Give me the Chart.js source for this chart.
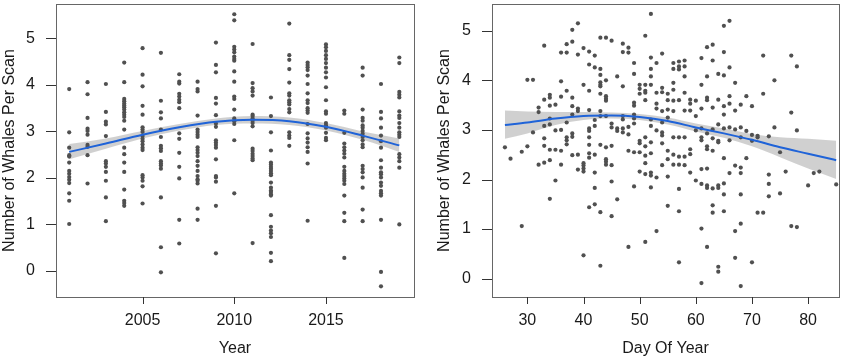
<!DOCTYPE html>
<html>
<head>
<meta charset="utf-8">
<script src="https://cdn.jsdelivr.net/npm/chart.js@4.4.1/dist/chart.umd.min.js"></script>
<style>
body { margin: 0; background: #fff; }
#wrap { display: flex; width: 850px; height: 358px; }
canvas { display: block; }
</style>
</head>
<body>
<div id="wrap">
  <canvas id="yearChart" width="425" height="358"></canvas>
  <canvas id="dayChart" width="425" height="358"></canvas>
</div>
<script>
// left panel: whales per scan by year
var years = [2001, 2002, 2003, 2004, 2005, 2006, 2007, 2008, 2009, 2010,
             2011, 2012, 2013, 2014, 2015, 2016, 2017, 2018, 2019];
var yearValues = [
  [3.91, 2.98, 2.65, 2.49, 2.46, 2.33, 2.15, 2.09, 2.02, 1.96, 1.89, 1.67, 1.51, 1.01],
  [4.06, 3.80, 3.29, 3.06, 3.01, 2.93, 2.71, 2.67, 2.49, 1.88],
  [4.02, 3.42, 3.21, 3.15, 2.90, 2.36, 2.31, 2.24, 2.13, 1.94, 1.58, 1.07],
  [4.48, 4.06, 3.70, 3.65, 3.60, 3.56, 3.52, 3.47, 3.41, 3.36, 3.31, 3.23, 3.04, 2.65, 2.51, 2.33, 2.13, 1.75, 1.51, 1.46, 1.40],
  [4.79, 4.22, 3.97, 3.55, 3.36, 3.09, 3.04, 2.99, 2.90, 2.84, 2.79, 2.72, 2.65, 2.60, 2.06, 2.01, 1.94, 1.82, 1.45],
  [4.69, 3.66, 3.41, 3.28, 3.04, 2.88, 2.69, 2.64, 2.58, 2.36, 2.31, 2.27, 2.20, 1.58, 0.51, -0.03],
  [4.23, 4.07, 4.03, 3.81, 3.75, 3.68, 3.63, 3.50, 2.96, 2.84, 2.54, 2.24, 1.99, 1.10, 0.59],
  [4.07, 3.91, 3.86, 3.34, 3.04, 2.99, 2.93, 2.88, 2.66, 2.60, 2.54, 2.47, 2.36, 2.26, 2.15, 2.04, 1.97, 1.94, 1.88, 1.34, 1.10],
  [4.91, 4.43, 4.27, 3.72, 3.60, 3.35, 3.17, 3.10, 2.81, 2.76, 2.71, 2.65, 2.40, 2.04, 2.01, 1.92, 1.40, 0.38],
  [5.52, 5.39, 4.82, 4.76, 4.70, 4.61, 4.56, 4.52, 4.29, 4.07, 3.75, 3.70, 3.47, 3.28, 3.22, 3.16, 2.81, 1.67],
  [4.88, 4.04, 3.93, 3.86, 3.77, 3.36, 3.33, 3.28, 3.23, 3.18, 3.11, 2.63, 2.58, 2.52, 2.47, 2.42, 2.38, 0.60],
  [3.73, 3.33, 2.98, 2.59, 2.33, 2.29, 2.24, 2.20, 2.15, 2.10, 2.06, 1.90, 1.79, 1.73, 1.70, 1.65, 1.62, 1.20, 0.95, 0.87, 0.81, 0.73, 0.39, 0.21],
  [5.32, 4.64, 4.54, 4.34, 4.05, 3.82, 3.77, 3.67, 3.63, 3.58, 3.48, 3.41, 2.98, 2.91, 2.86, 2.69],
  [4.48, 4.43, 4.38, 4.32, 4.20, 4.02, 3.82, 3.67, 3.61, 3.50, 3.45, 3.40, 3.16, 2.96, 2.85, 2.76, 2.66, 2.56, 2.31, 1.08],
  [4.87, 4.81, 4.73, 4.64, 4.56, 4.47, 4.37, 4.27, 4.16, 3.95, 3.67, 3.43, 3.38, 3.18, 3.13, 3.08, 2.97, 2.86, 2.81],
  [3.45, 3.38, 2.97, 2.74, 2.66, 2.59, 2.52, 2.44, 2.24, 2.15, 2.09, 2.04, 1.99, 1.94, 1.87, 1.62, 1.25, 1.07, 0.28],
  [4.37, 4.20, 3.47, 3.29, 3.23, 3.13, 3.08, 3.01, 2.95, 2.88, 2.81, 2.72, 2.66, 2.26, 2.19, 2.12, 2.01, 1.79, 1.32, 1.07],
  [4.02, 3.42, 3.28, 3.08, 2.91, 2.79, 2.65, 2.38, 2.22, 2.12, 2.08, 2.01, 1.90, 1.83, 1.72, 1.67, 1.62, 1.10, -0.02, -0.33],
  [4.59, 4.47, 3.85, 3.79, 3.73, 3.43, 3.34, 3.29, 3.18, 3.08, 2.98, 2.93, 2.88, 2.51, 2.44, 2.36, 2.22, 1.00]
];
var yearFitX  = [2001, 2003, 2005, 2007, 2009, 2011, 2013, 2015, 2017, 2019];
var yearFitY  = [2.56, 2.74, 2.93, 3.09, 3.21, 3.25, 3.22, 3.10, 2.91, 2.70];
var yearFitLo = [2.40, 2.63, 2.85, 3.02, 3.14, 3.17, 3.14, 3.02, 2.82, 2.56];
var yearFitHi = [2.73, 2.85, 3.01, 3.16, 3.28, 3.33, 3.30, 3.18, 3.00, 2.85];
var yearTicks = [2005, 2010, 2015];

// right panel: whales per scan by day of year
var days = [26, 27, 29, 30, 31, 32, 33, 34, 35, 36, 37, 38, 39, 40, 41, 42, 43, 44, 45, 46,
            47, 48, 49, 50, 51, 52, 53, 54, 55, 56, 57, 58, 59, 60, 61, 62, 63, 64, 65, 66,
            67, 68, 69, 70, 71, 72, 73, 74, 75, 76, 77, 78, 80, 81, 82, 85];
var dayValues = [
  [2.65], [2.42], [2.56, 1.06], [4.01, 2.67], [4.01, 2.95], [3.45, 3.36, 2.30],
  [4.70, 3.61, 3.08, 2.83, 2.68, 2.34],
  [3.71, 3.65, 3.49, 3.23, 3.11, 2.60, 2.39, 1.61],
  [3.51, 2.99, 2.60, 1.98],
  [4.56, 3.98, 3.67, 3.00, 2.58, 2.30],
  [4.73, 4.56, 3.79, 3.15, 2.85, 2.79, 2.71],
  [5.02, 4.78, 3.65, 3.48, 3.31, 2.93, 2.86, 2.49],
  [5.15, 4.52, 3.43, 3.38, 2.50, 2.20],
  [4.65, 3.91, 2.33, 2.28, 2.22, 2.16, 0.47],
  [4.58, 4.32, 3.79, 3.40, 3.03, 2.98, 2.85, 2.70, 2.53, 2.44, 1.44],
  [4.50, 4.26, 3.20, 3.08, 2.50, 2.14, 1.83, 1.50],
  [4.86, 4.23, 4.11, 3.96, 3.91, 3.88, 3.73, 3.38, 3.28, 2.70, 1.34, 0.26],
  [4.86, 4.00, 3.68, 3.63, 3.59, 3.28, 2.65, 2.41, 2.36, 2.30],
  [4.80, 3.13, 3.05, 2.68, 2.29, 1.96, 1.26],
  [4.08, 3.03, 2.98, 1.60],
  [4.74, 4.57, 3.88, 3.28, 3.21, 3.03, 2.95],
  [4.66, 4.56, 3.06, 2.91, 2.58, 0.64],
  [4.35, 4.13, 3.55, 3.49, 3.31, 3.23, 3.13, 2.55, 1.86],
  [3.91, 3.83, 3.73, 2.78, 2.73, 2.55, 2.16],
  [4.90, 3.91, 3.79, 3.75, 3.60, 2.85, 2.67, 2.48, 2.33, 2.11, 0.74],
  [5.34, 4.46, 4.23, 4.08, 3.91, 3.21, 3.08, 2.75, 2.53, 2.14, 2.08, 1.84],
  [4.35, 3.75, 3.53, 3.43, 2.99, 2.04, 0.96],
  [4.54, 3.85, 3.76, 3.38, 3.15, 2.95, 2.89, 2.73, 2.29],
  [3.73, 3.60, 3.41, 3.25, 2.58, 2.41, 2.06, 1.47],
  [4.35, 4.23, 3.95, 3.81, 3.59, 3.38, 2.85, 2.50, 2.30],
  [4.38, 4.28, 4.22, 3.60, 2.85, 2.46, 2.30, 1.81, 1.36, 0.33],
  [4.40, 4.28, 4.08, 3.75, 3.39, 2.85, 2.46, 2.29],
  [3.61, 3.53, 3.39, 2.61, 2.51, 2.14],
  [3.59, 3.28, 2.99, 1.98],
  [4.45, 3.91, 3.43, 3.03, 2.85, 2.79, 2.21, 1.91, 1.01, -0.09],
  [4.67, 4.08, 3.65, 3.60, 2.93, 2.67, 2.61, 2.22, 1.88, 1.83, 0.64],
  [4.72, 4.40, 3.45, 3.01, 2.83, 2.58, 1.82, 1.48, 1.33],
  [4.13, 3.61, 3.11, 2.78, 2.75, 1.88, 1.83, 0.24, 0.14],
  [5.10, 4.57, 4.10, 3.48, 3.31, 3.03, 2.43, 1.92, 1.70, 1.36],
  [5.20, 4.26, 3.68, 3.53, 3.05, 2.79, 2.13],
  [3.95, 3.39, 3.01, 2.28, 0.96, 0.42],
  [3.51, 3.05, 2.85, 2.24, 2.13, 1.70, 1.11, -0.15],
  [3.68, 2.98, 2.43],
  [3.48, 2.90, 2.78, 0.33],
  [2.88, 2.85, 1.33],
  [4.50, 3.73, 1.33],
  [2.87, 2.10, 1.91, 1.66],
  [4.00, 3.05],
  [2.55, 1.72],
  [2.16],
  [4.50, 3.35, 1.06],
  [4.28, 2.99, 1.04],
  [1.88], [2.13], [2.16], [1.90]
];
var dayFitX  = [26, 30, 35, 40, 45, 50, 55, 60, 65, 70, 75, 80, 85];
var dayFitY  = [3.10, 3.15, 3.23, 3.28, 3.29, 3.26, 3.18, 3.05, 2.93, 2.80, 2.65, 2.52, 2.39];
var dayFitLo = [2.82, 2.93, 3.10, 3.20, 3.23, 3.20, 3.11, 2.97, 2.84, 2.67, 2.45, 2.22, 2.01];
var dayFitHi = [3.39, 3.37, 3.36, 3.36, 3.35, 3.32, 3.25, 3.13, 3.03, 2.92, 2.85, 2.82, 2.78];
var dayTicks = [30, 40, 50, 60, 70, 80];

var valueTicks = [0, 1, 2, 3, 4, 5];

var FONT = { family: '"Liberation Sans", Arial, sans-serif', size: 16 };

// plot frame and outward tick marks, like base R box() + axis()
var boxPlugin = {
  id: 'box',
  afterDraw: function (chart) {
    var a = chart.chartArea, c = chart.ctx;
    var xs = chart.scales.x, ys = chart.scales.y;
    c.save();
    c.strokeStyle = '#666';
    c.lineWidth = 1;
    c.strokeRect(Math.round(a.left) + 0.5, Math.round(a.top) + 0.5,
                 Math.round(a.right - a.left), Math.round(a.bottom - a.top));
    c.strokeStyle = '#333';
    c.beginPath();
    xs.ticks.forEach(function (t) {
      var px = Math.round(xs.getPixelForValue(t.value)) + 0.5;
      c.moveTo(px, a.bottom);
      c.lineTo(px, a.bottom + 7);
    });
    ys.ticks.forEach(function (t) {
      var py = Math.round(ys.getPixelForValue(t.value)) + 0.5;
      c.moveTo(a.left, py);
      c.lineTo(a.left - 10, py);
    });
    c.stroke();
    c.restore();
  }
};

function toPoints(xs, groups) {
  var pts = [];
  for (var i = 0; i < xs.length; i++) {
    for (var j = 0; j < groups[i].length; j++) {
      pts.push({ x: xs[i], y: groups[i][j] });
    }
  }
  return pts;
}

function toXY(xs, ys) {
  return xs.map(function (x, i) { return { x: x, y: ys[i] }; });
}

function makeChart(id, xs, groups, fitX, fitY, fitLo, fitHi, xTicks, xMin, xMax, yMin, yMax, xTitle, yWidth, yTitlePad) {
  return new Chart(document.getElementById(id), {
    type: 'scatter',
    data: {
      datasets: [
        { data: toXY(fitX, fitLo), showLine: true, pointRadius: 0, borderWidth: 0,
          borderColor: 'rgba(0,0,0,0)', cubicInterpolationMode: 'monotone', order: 3 },
        { data: toXY(fitX, fitHi), showLine: true, pointRadius: 0, borderWidth: 0,
          borderColor: 'rgba(0,0,0,0)', backgroundColor: 'rgba(170,170,170,0.55)',
          fill: '-1', cubicInterpolationMode: 'monotone', order: 3 },
        { data: toPoints(xs, groups), pointRadius: 2.1, pointBackgroundColor: '#505050',
          pointBorderWidth: 0, order: 2 },
        { data: toXY(fitX, fitY), showLine: true, pointRadius: 0, borderWidth: 2,
          borderColor: '#1f63d8', cubicInterpolationMode: 'monotone', order: 1 }
      ]
    },
    options: {
      responsive: false,
      devicePixelRatio: 1,
      animation: false,
      layout: { padding: { top: 2, right: 11, left: 0, bottom: 0 } },
      plugins: { legend: { display: false }, tooltip: { enabled: false } },
      scales: {
        x: {
          type: 'linear', min: xMin, max: xMax,
          afterBuildTicks: function (s) { s.ticks = xTicks.map(function (v) { return { value: v }; }); },
          afterFit: function (s) { s.height = 61; s.paddingLeft = 0; s.paddingRight = 0; },
          grid: { display: false, drawTicks: false },
          border: { display: false },
          ticks: { font: FONT, color: '#1a1a1a', padding: 14, maxRotation: 0,
                   callback: function (v) { return String(v); } },
          title: { display: true, text: xTitle, font: FONT, color: '#1a1a1a', padding: { top: 0, bottom: 0 } }
        },
        y: {
          type: 'linear', min: yMin, max: yMax,
          afterBuildTicks: function (s) { s.ticks = valueTicks.map(function (v) { return { value: v }; }); },
          afterFit: function (s) { s.width = yWidth; s.paddingTop = 0; s.paddingBottom = 0; },
          grid: { display: false, drawTicks: false },
          border: { display: false },
          ticks: { font: FONT, color: '#1a1a1a', padding: 21 },
          title: { display: true, text: 'Number of Whales Per Scan', font: FONT, color: '#1a1a1a',
                   padding: { top: yTitlePad, bottom: 0 } }
        }
      }
    },
    plugins: [boxPlugin]
  });
}

makeChart('yearChart', years, yearValues, yearFitX, yearFitY, yearFitLo, yearFitHi, yearTicks,
          2000.28, 2019.8, -0.56, 5.74, 'Year', 56, 0);
makeChart('dayChart', days, dayValues, dayFitX, dayFitY, dayFitLo, dayFitHi, dayTicks,
          23.7, 85.5, -0.37, 5.54, 'Day Of Year', 67, 10);
</script>
</body>
</html>
